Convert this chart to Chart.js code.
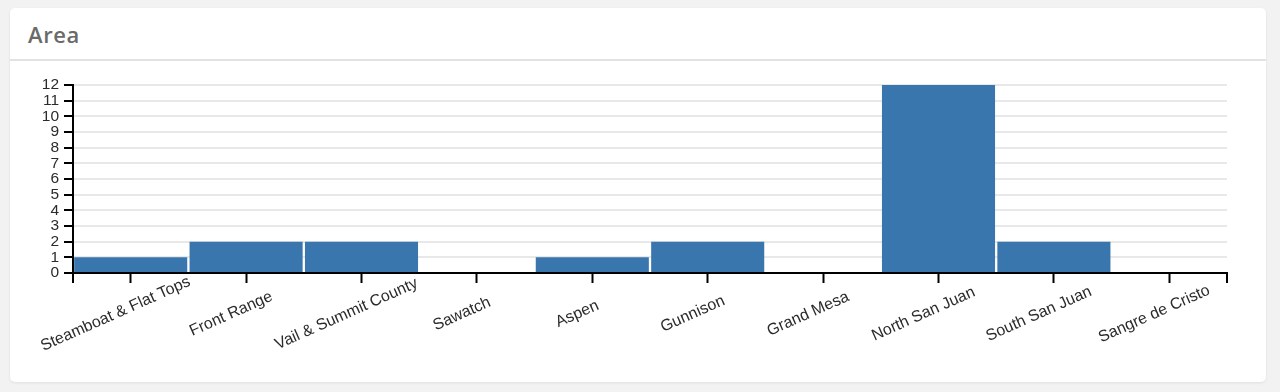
<!DOCTYPE html>
<html>
<head>
<meta charset="utf-8">
<script src="https://cdn.jsdelivr.net/npm/chart.js@4"></script>
<style>
  body { margin: 0; background: #f2f2f2; width: 1280px; height: 392px; overflow: hidden; position: relative; }
  .card { position: absolute; left: 10px; top: 8px; width: 1256px; height: 374px; background: #fff; border-radius: 5px; box-shadow: 0 1px 3px rgba(0,0,0,0.08); }
  .card h2 { margin: 0; height: 51px; border-bottom: 2px solid #e2e2e2; font: 600 22px "Open Sans", sans-serif; letter-spacing: 0.6px; color: #6a6a6a; line-height: 52px; padding-left: 18px; }
  #chart { position: absolute; left: 0; top: 0; }
</style>
</head>
<body>
<div class="card"><h2>Area</h2></div>
<canvas id="chart" width="1280" height="392"></canvas>
<script>
const areas = ['Steamboat & Flat Tops', 'Front Range', 'Vail & Summit County', 'Sawatch', 'Aspen',
  'Gunnison', 'Grand Mesa', 'North San Juan', 'South San Juan', 'Sangre de Cristo'];
const counts = [1, 2, 2, 0, 1, 2, 0, 12, 2, 0];
const yTicks = [0, 1, 2, 3, 4, 5, 6, 7, 8, 9, 10, 11, 12];

const labelFont = '16px "Liberation Sans", Arial, sans-serif';

// d3-like rotated labels, centred a bit left of each tick, plus the outer domain ticks
const axisExtras = {
  id: 'axisExtras',
  afterDraw(chart) {
    const ctx = chart.ctx;
    const x = chart.scales.x;
    const area = chart.chartArea;
    ctx.save();
    ctx.strokeStyle = '#000';
    ctx.lineWidth = 2;
    ctx.beginPath();
    ctx.moveTo(area.left, area.bottom);
    ctx.lineTo(area.left, area.bottom + 10);
    ctx.moveTo(area.right, area.bottom);
    ctx.lineTo(area.right, area.bottom + 10);
    ctx.stroke();

    ctx.font = labelFont;
    ctx.fillStyle = '#2b2b2b';
    ctx.textAlign = 'center';
    ctx.textBaseline = 'middle';
    chart.data.labels.forEach((label, i) => {
      const px = x.getPixelForValue(i);
      ctx.save();
      ctx.translate(px - 15, area.bottom + 41);
      ctx.rotate(-24 * Math.PI / 180);
      ctx.fillText(label, 0, 0);
      ctx.restore();
    });
    ctx.restore();
  }
};

new Chart(document.getElementById('chart'), {
  type: 'bar',
  data: {
    labels: areas,
    datasets: [{
      data: counts,
      backgroundColor: '#3a76ae',
      borderWidth: 0,
      barPercentage: 0.98,
      categoryPercentage: 1
    }]
  },
  options: {
    responsive: false,
    animation: false,
    events: [],
    layout: { padding: { top: 85, right: 53, left: 0, bottom: 0 } },
    plugins: { legend: { display: false }, tooltip: { enabled: false } },
    scales: {
      x: {
        offset: true,
        grid: { offset: false, drawOnChartArea: false, tickColor: '#000', tickWidth: 2, tickLength: 10 },
        border: { color: '#000', width: 2 },
        ticks: { display: false },
        afterFit(scale) { scale.height = 119; }
      },
      y: {
        min: 0,
        max: 12,
        afterBuildTicks(scale) { scale.ticks = yTicks.map(v => ({ value: v })); },
        grid: { color: '#e8e8e8', lineWidth: 2, tickColor: '#000', tickWidth: 2, tickLength: 9 },
        border: { color: '#000', width: 2 },
        ticks: { autoSkip: false, color: '#2b2b2b', font: { family: '"Liberation Sans", Arial, sans-serif', size: 15.5 }, padding: 5 },
        afterFit(scale) { scale.width = 73; }
      }
    }
  },
  plugins: [axisExtras]
});
</script>
</body>
</html>
